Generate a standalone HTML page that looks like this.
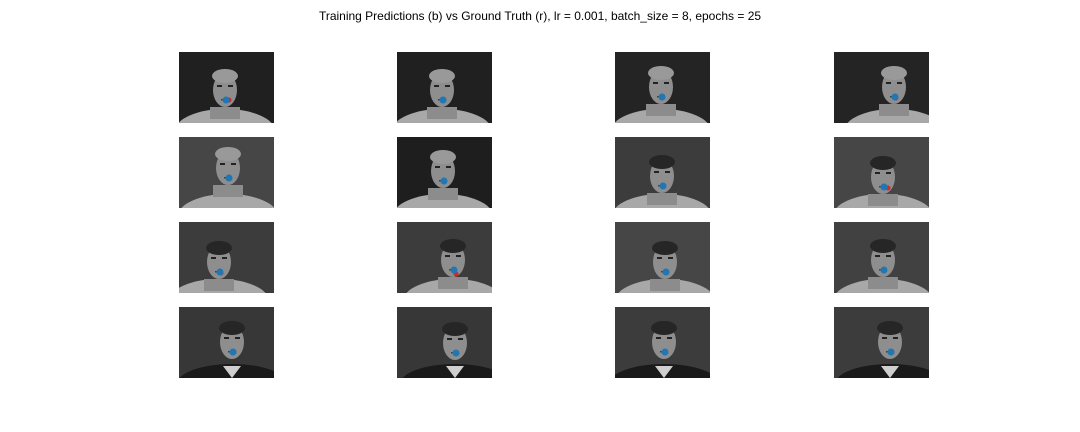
<!DOCTYPE html>
<html><head><meta charset="utf-8"><style>
body{margin:0;background:#fff;width:1080px;height:432px;overflow:hidden;font-family:"Liberation Sans",sans-serif}
#title{position:absolute;left:0;width:1080px;top:9px;text-align:center;font-size:12px;color:#000}
svg{position:absolute;left:0;top:0}
</style></head><body>
<div id="title">Training Predictions (b) vs Ground Truth (r), lr = 0.001, batch_size = 8, epochs = 25</div>
<svg id="s" width="1080" height="432">
<defs><clipPath id="pc"><rect x="0" y="0" width="95" height="71"/></clipPath></defs>
</svg>
<script>
// predicted (blue) keypoint positions within each 95x71 panel (pixel coords of image)
const predX=[47,46,47,61, 50,47,48,50, 41,57,51,50, 54,59,50,57];
const predY=[48,48,45,45, 41,44,49,50, 50,48,50,48, 45,46,45,45];
// ground-truth (red) positions
const truthX=[50,47,47,62, 50,47,49,54, 42,59,51,50, 55,60,50,58];
const truthY=[48,48,46,46, 41,44,49,51, 51,52,50,49, 45,46,45,45];
// subject per panel: 0 = curly hair, 1 = dark hair, 2 = dark jacket
const subject=[0,0,0,0, 0,0,1,1, 1,1,1,1, 2,2,2,2];
const bgShade=[32,32,36,36, 70,30,60,70, 60,60,70,65, 55,55,60,60];
const colX=[179,397,615,834], rowY=[52,137,222,307], W=95, H=71;
const NS='http://www.w3.org/2000/svg', s=document.getElementById('s');
function mk(t,a,p){const e=document.createElementNS(NS,t);for(const k in a)e.setAttribute(k,a[k]);p.appendChild(e);return e;}
for(let i=0;i<16;i++){
  const x0=colX[i%4], y0=rowY[Math.floor(i/4)];
  const g=mk('g',{transform:`translate(${x0},${y0})`},s);
  
  
  const c=mk('g',{'clip-path':'url(#pc)'},g);
  const b=bgShade[i];
  mk('rect',{x:0,y:0,width:W,height:H,fill:`rgb(${b},${b},${b})`},c);
  const cx=predX[i]-1, sub=subject[i];
  const fy=predY[i]-10;
  if(sub===2){
    mk('ellipse',{cx:cx,cy:H+6,rx:55,ry:20,fill:'#1a1a1a'},c);
    mk('path',{d:`M${cx-9} ${H-12} L${cx} ${H} L${cx+9} ${H-12}Z`,fill:'#cfcfcf'},c);
  } else {
    mk('ellipse',{cx:cx,cy:H+8,rx:50,ry:22,fill:'#a8a8a8'},c);
    mk('rect',{x:cx-15,y:fy+17,width:30,height:12,fill:'#8c8c8c'},c);
  }
  mk('ellipse',{cx:cx,cy:fy,rx:12,ry:17,fill:'#8e8e8e'},c);
  mk('ellipse',{cx:cx,cy:fy-14,rx:13,ry:7,fill:sub===0?'#999':'#262626'},c);
  mk('rect',{x:cx-8,y:fy-5,width:5,height:2,fill:'#222'},c);
  mk('rect',{x:cx+3,y:fy-5,width:5,height:2,fill:'#222'},c);
  mk('rect',{x:cx-4,y:fy+9,width:8,height:1.5,fill:'#444'},c);
  const r=mk('circle',{cx:truthX[i],cy:truthY[i],r:2.5,fill:'#d62728'},g);
  
  
  const p=mk('circle',{cx:predX[i],cy:predY[i],r:3.5,fill:'#1f77b4'},g);
  
  
}
</script>
</body></html>
